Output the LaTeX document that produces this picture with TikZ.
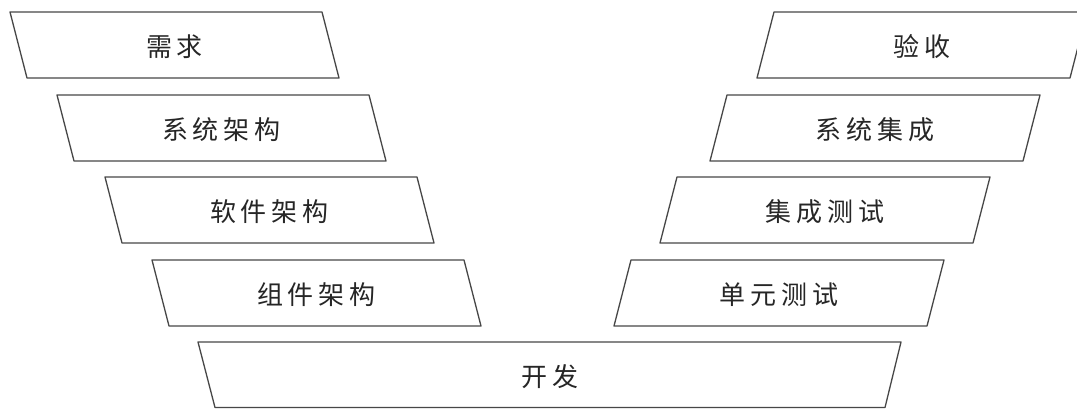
\documentclass[tikz,border=0pt]{standalone}
\usepackage{fontspec}
\newfontfamily\cjk{Noto Sans CJK SC}
\newcommand\chgap{\hspace{5pt}}
\begin{document}
\begin{tikzpicture}[x=1pt,y=-1pt,
  boxline/.style={draw=black!72,line width=1.3pt,line join=round},
  lbl/.style={font=\cjk\fontsize{26}{30}\selectfont,text=black!85,inner sep=0pt}]
\clip (0,0) rectangle (1077,409);
\fill[white] (0,0) rectangle (1077,409);
% left column (leaning \)
\newcommand\lbox[4]{%
  \draw[boxline] (#2,#3) -- (#2+312,#3) -- (#2+329,#3+66) -- (#2+17,#3+66) -- cycle;
  \node[lbl] (#1) at (#2+164.5,#3+35) {#4};}
% right column (leaning /)
\newcommand\rbox[4]{%
  \draw[boxline] (#2,#3) -- (#2+313,#3) -- (#2+296,#3+66) -- (#2-17,#3+66) -- cycle;
  \node[lbl] (#1) at (#2+148,#3+35) {#4};}
\lbox{req}{10}{12}{需\chgap 求}
\lbox{sysarch}{57}{95}{系\chgap 统\chgap 架\chgap 构}
\lbox{swarch}{105}{177}{软\chgap 件\chgap 架\chgap 构}
\lbox{comparch}{152}{260}{组\chgap 件\chgap 架\chgap 构}
\rbox{accept}{774}{12}{验\chgap 收}
\rbox{sysint}{727}{95}{系\chgap 统\chgap 集\chgap 成}
\rbox{inttest}{677}{177}{集\chgap 成\chgap 测\chgap 试}
\rbox{unittest}{631}{260}{单\chgap 元\chgap 测\chgap 试}
% development
\draw[boxline] (198,342) -- (901,342) -- (885,407.5) -- (215,407.5) -- cycle;
\node[lbl] (dev) at (550,377) {开\chgap 发};
\end{tikzpicture}
\end{document}
